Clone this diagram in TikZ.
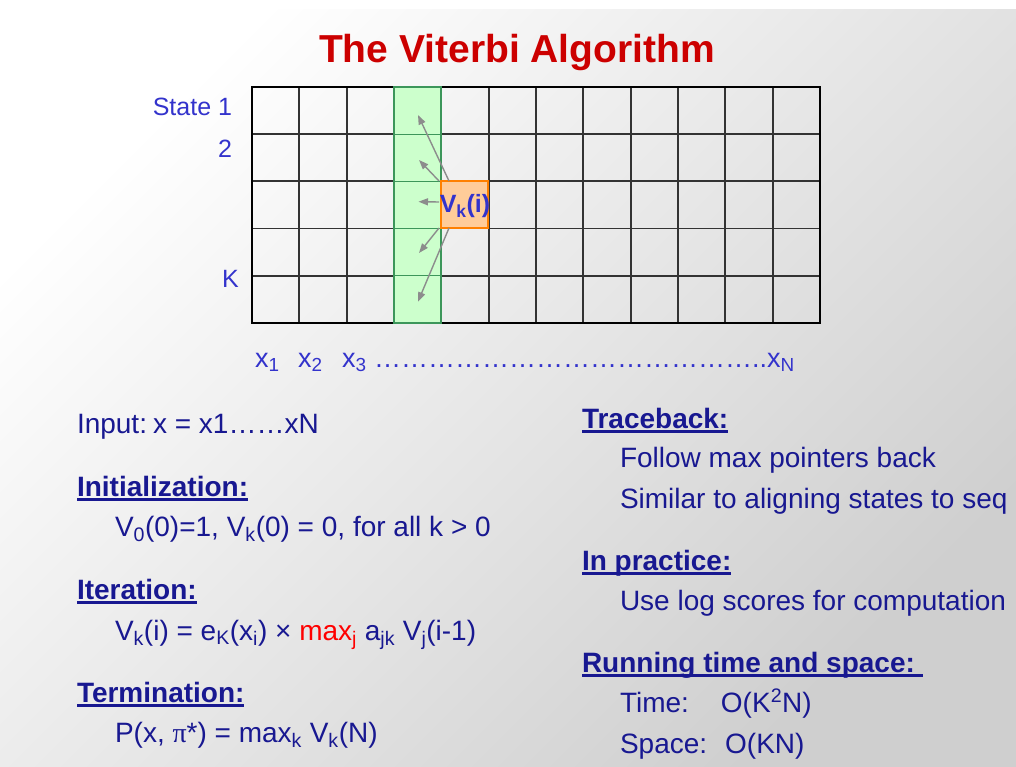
\documentclass[tikz,border=0pt]{standalone}
\usepackage{fontspec}
\setmainfont{Liberation Sans}
\newfontfamily\serifpi{Liberation Serif}
\usetikzlibrary{arrows.meta}
\definecolor{txtblue}{RGB}{24,24,145}
\definecolor{lblblue}{RGB}{51,51,204}
\definecolor{titlered}{RGB}{204,0,0}
\definecolor{maxred}{RGB}{255,0,0}
\definecolor{cellgreen}{RGB}{204,255,204}
\definecolor{edgegreen}{RGB}{60,150,90}
\definecolor{cellorange}{RGB}{255,204,153}
\definecolor{edgeorange}{RGB}{255,128,0}
\newcommand\hd[1]{\setbox0\hbox{\bfseries #1}\rlap{\rule[-4.5pt]{\wd0}{2.2pt}}\box0}
\begin{document}
\begin{tikzpicture}[x=1pt,y=-1pt,
  every node/.style={inner sep=0pt, outer sep=0pt},
  body/.style={anchor=base west, text=txtblue, font=\fontsize{28}{34}\selectfont},
  lbl/.style={text=lblblue, font=\fontsize{25}{30}\selectfont},
  xlbl/.style={anchor=base west, text=lblblue, font=\fontsize{27}{32}\selectfont},
  gridline/.style={draw=black!80, line width=1.8pt},
  greencell/.style={fill=cellgreen, draw=edgegreen, line width=1.2pt},
  ptr/.style={draw=black!45, line width=1.4pt, -{Triangle[length=9.5pt,width=7pt]}}]

\useasboundingbox (0,0) rectangle (1016,767);
\fill[white] (0,0) rectangle (1016,767);
\shade[top color=white, bottom color=black!19, shading angle=45] (0,10) rectangle (1016,767);

% title
\node[anchor=base, font=\bfseries\fontsize{39}{46}\selectfont, text=titlered] (title) at (517,63) {The Viterbi Algorithm};

% grid
\foreach \i in {1,...,11} \draw[gridline] ({252+47.33*\i},87) -- ({252+47.33*\i},323);
\foreach \j in {1,...,4} \draw[gridline] (252,{87+47.2*\j}) -- (820,{87+47.2*\j});
\draw[black, line width=2.8pt] (252,87) rectangle (820,323);
\foreach \j in {0,...,4} \draw[greencell] (394,{87+47.2*\j}) rectangle (441,{87+47.2*(\j+1)});

\node[draw=edgeorange, fill=cellorange, line width=1.3pt, minimum width=47pt, minimum height=47pt, anchor=north west] (vk) at (441,181) {};

% pointer targets
\coordinate (t1) at (418,115);
\coordinate (t2) at (419,160);
\coordinate (t3) at (418.5,201.7);
\coordinate (t4) at (419,253);
\coordinate (t5) at (418,301.7);
\draw[ptr] ([xshift=8pt]vk.north west) -- (t1);
\draw[ptr] ([xshift=-2pt]vk.north west) -- (t2);
\draw[ptr] ([shift={(-2pt,2.5pt)}]vk.west) -- (t3);
\draw[ptr] ([xshift=-2pt]vk.south west) -- (t4);
\draw[ptr] ([xshift=8pt]vk.south west) -- (t5);

\node[anchor=base, text=lblblue, font=\bfseries\fontsize{25}{30}\selectfont] (vklabel) at (465,213) {V\textsubscript{k}(i)};

% state labels
\node[lbl, anchor=base east] (s1) at (232,116) {State 1};
\node[lbl, anchor=base east] (s2) at (232,158) {2};
\node[lbl, anchor=base west] (sk) at (222,287) {K};

% sequence labels
\node[xlbl] (x1) at (255,367) {x\textsubscript{1}};
\node[xlbl] (x2) at (298,367) {x\textsubscript{2}};
\node[xlbl] (x3) at (342,367) {x\textsubscript{3} ……………………………………..x\textsubscript{N}};

% left column
\node[body] (inp) at (77,433) {Input:\hspace{6pt}x = x1……xN};
\node[body] (h1) at (77,496) {\hd{Initialization:}};
\node[body] (l1) at (115,536) {V\textsubscript{0}(0)=1, V\textsubscript{k}(0) = 0, for all k > 0};
\node[body] (h2) at (77,599) {\hd{Iteration:}};
\node[body] (l2) at (115,640) {V\textsubscript{k}(i) = e\textsubscript{K}(x\textsubscript{i}) × {\color{maxred}max\textsubscript{j}} a\textsubscript{jk} V\textsubscript{j}(i-1)};
\node[body] (h3) at (77,702) {\hd{Termination:}};
\node[body] (l3) at (115,742) {P(x, {\serifpi π}*) = max\textsubscript{k} V\textsubscript{k}(N)};

% right column
\node[body] (h4) at (582,428) {\hd{Traceback:}};
\node[body] (r1) at (620,467) {Follow max pointers back};
\node[body] (r2) at (620,508) {Similar to aligning states to seq};
\node[body] (h5) at (582,570) {\hd{In practice:}};
\node[body] (r3) at (620,610) {Use log scores for computation};
\node[body] (h6) at (582,672) {\hd{Running time and space:\ }};
\node[body] (r4) at (620,712) {Time:\hspace{32pt}O(K\textsuperscript{2}N)};
\node[body] (r5) at (620,753) {Space:\hspace{18pt}O(KN)};
\end{tikzpicture}
\end{document}
